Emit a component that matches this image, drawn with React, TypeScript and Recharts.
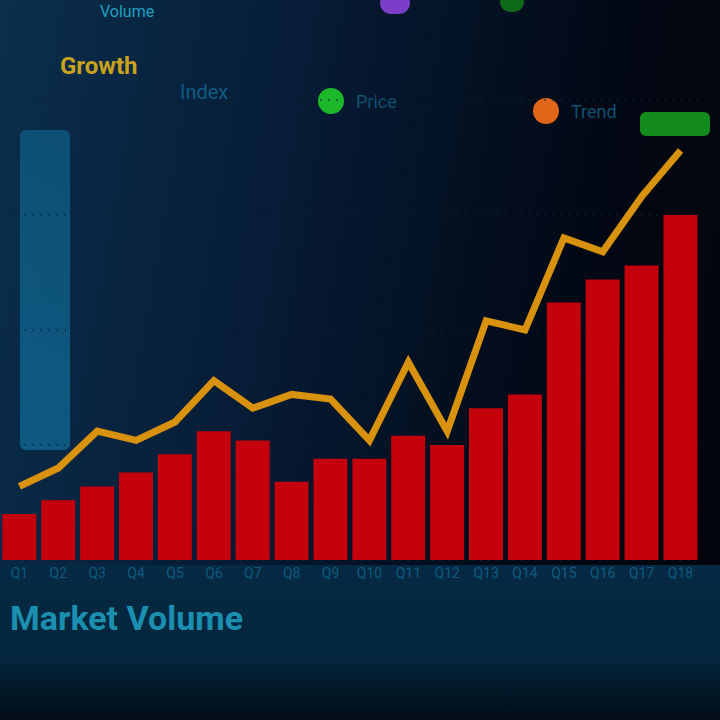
import React from "react"
import { ComposedChart, Bar, Line, XAxis, YAxis, CartesianGrid } from "recharts"

// periods along the x axis
const periods = ["Q1", "Q2", "Q3", "Q4", "Q5", "Q6", "Q7", "Q8", "Q9", "Q10", "Q11", "Q12", "Q13", "Q14", "Q15", "Q16", "Q17", "Q18"]
// red bars
const volume = [10, 13, 16, 19, 23, 28, 26, 17, 22, 22, 27, 25, 33, 36, 56, 61, 64, 75]
// orange line
const price = [16, 20, 28, 26, 30, 39, 33, 36, 35, 26, 43, 28, 52, 50, 70, 67, 79, 89]

const data = periods.map((p, i) => ({ period: p, volume: volume[i], price: price[i] }))

const legendItems = [
  { label: "Price", color: "#1db82a", x: 318, y: 88 },
  { label: "Trend", color: "#e0661a", x: 533, y: 98 },
]

const App: React.FC = () => {
  return (
    <div
      style={{
        position: "fixed",
        left: 0,
        top: 0,
        width: 720,
        height: 720,
        overflow: "hidden",
        background: "linear-gradient(100deg, #0b2f4d 0%, #061a33 40%, #020814 75%, #01040a 100%)",
        fontFamily: "Roboto, sans-serif",
      }}
    >
      <div style={{ position: "absolute", left: 0, top: 565, width: 720, height: 155, background: "linear-gradient(180deg, #062a44 0%, #04263d 60%, #020c16 100%)" }} />
      <div style={{ position: "absolute", left: 60, top: 52, color: "#c9a31e", fontSize: 24, fontWeight: 700 }}>Growth</div>
      <div style={{ position: "absolute", left: 180, top: 80, color: "#0f5a80", fontSize: 20 }}>Index</div>
      {legendItems.map((l) => (
        <div key={l.label} style={{ position: "absolute", left: l.x, top: l.y, display: "flex", alignItems: "center", gap: 12 }}>
          <span style={{ width: 26, height: 26, borderRadius: 13, background: l.color, display: "inline-block" }} />
          <span style={{ color: "#0f5070", fontSize: 18 }}>{l.label}</span>
        </div>
      ))}
      <div style={{ position: "absolute", left: 640, top: 112, width: 70, height: 24, background: "#138a1e", borderRadius: 6 }} />
      <div style={{ position: "absolute", left: 100, top: 2, color: "#1fa0c0", fontSize: 16 }}>Volume</div>
      <div style={{ position: "absolute", left: 380, top: -8, width: 30, height: 22, borderRadius: 11, background: "#7a3ec8" }} />
      <div style={{ position: "absolute", left: 500, top: -8, width: 24, height: 20, borderRadius: 10, background: "#0e6a1a" }} />
      <div
        style={{
          position: "absolute",
          left: 20,
          top: 130,
          width: 50,
          height: 320,
          background: "linear-gradient(180deg, #0f5c86 0%, #0f6a94 100%)",
          opacity: 0.75,
          borderRadius: 6,
        }}
      />
      <div style={{ position: "absolute", left: 10, top: 598, color: "#1a8fb0", fontSize: 34, fontWeight: 700 }}>Market Volume</div>
      <div style={{ position: "absolute", left: 0, top: 0 }}>
        <ComposedChart
          width={720}
          height={720}
          data={data}
          margin={{ top: 100, right: 20, bottom: 130, left: 0 }}
          barCategoryGap="6%"
        >
          <CartesianGrid stroke="#0d2236" strokeDasharray="2 6" vertical={false} />
          <XAxis
            dataKey="period"
            axisLine={false}
            tickLine={false}
            tick={{ fill: "#0e5a80", fontSize: 14 }}
            interval={0}
          />
          <YAxis hide domain={[0, 100]} />
          <Bar dataKey="volume" fill="#c4000c" isAnimationActive={false} />
          <Line
            dataKey="price"
            type="linear"
            stroke="#d8920e"
            strokeWidth={7}
            dot={false}
            isAnimationActive={false}
          />
        </ComposedChart>
      </div>
    </div>
  )
}

export default App
